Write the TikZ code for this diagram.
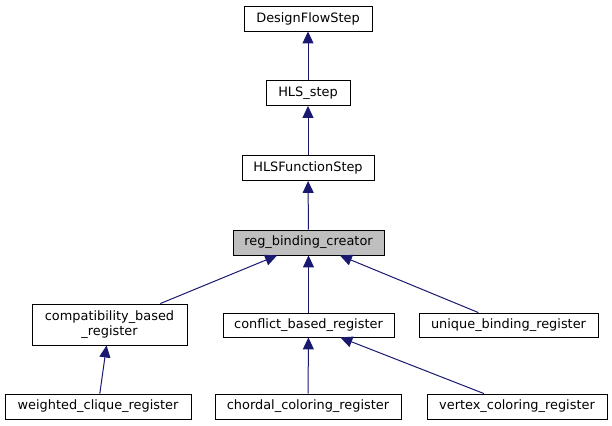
\documentclass[tikz,border=0pt]{standalone}
\usepackage{fontspec}
\setmainfont{DejaVu Sans}
\usetikzlibrary{arrows.meta}
\definecolor{edgeblue}{HTML}{191970}
\definecolor{hilite}{HTML}{BFBFBF}
\begin{document}
\begin{tikzpicture}[x=1pt,y=-1pt,
  box/.style={draw=black, line width=0.9pt, fill=white, inner sep=0pt, minimum height=25pt,
    align=center, font=\fontsize{12.9}{15}\selectfont},
  edge/.style={draw=edgeblue, line width=1pt, -{Triangle[length=12pt,width=11pt]}}]
\useasboundingbox (0,0) rectangle (612,425);
\node[box, minimum width=128pt] (dfs) at (308,18.5) {DesignFlowStep};
\node[box, minimum width=84pt] (hls) at (308,93) {HLS\_step};
\node[box, minimum width=132pt] (hfs) at (308,168) {HLSFunctionStep};
\node[box, fill=hilite, minimum width=151pt] (rbc) at (308.5,242.5) {reg\_binding\_creator};
\node[box, minimum width=155pt, minimum height=41pt] (cbr) at (109.5,324.5) {compatibility\_based\\\_register};
\node[box, minimum width=171pt, minimum height=24pt] (fbr) at (308.5,325) {conflict\_based\_register};
\node[box, minimum width=179pt, minimum height=24pt] (ubr) at (508.5,325) {unique\_binding\_register};
\node[box, minimum width=186pt] (wcr) at (98,406.5) {weighted\_clique\_register};
\node[box, minimum width=186pt] (ccr) at (308,406.5) {chordal\_coloring\_register};
\node[box, minimum width=180pt] (vcr) at (517,406.5) {vertex\_coloring\_register};
\draw[edge] (hls) -- (dfs);
\draw[edge] (hfs) -- (hls);
\draw[edge] (rbc) -- (hfs);
\draw[edge] (cbr) -- (rbc);
\draw[edge] (fbr) -- (rbc);
\draw[edge] (ubr) -- (rbc);
\draw[edge] (wcr) -- (cbr);
\draw[edge] (ccr) -- (fbr);
\draw[edge] (vcr) -- (fbr);
\end{tikzpicture}
\end{document}
